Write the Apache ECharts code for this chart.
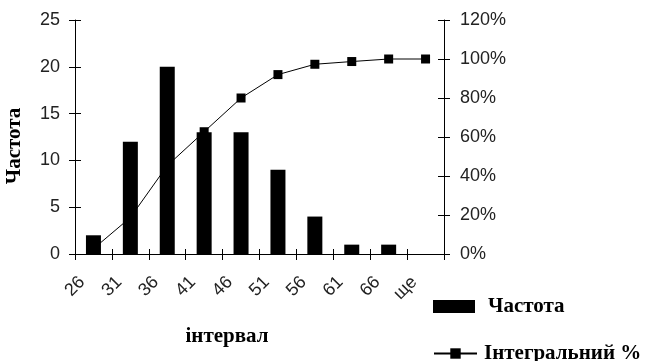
<!DOCTYPE html>
<html>
<head>
<meta charset="utf-8">
<script src="https://cdn.jsdelivr.net/npm/echarts@6/dist/echarts.min.js"></script>
<style>
html,body{margin:0;padding:0;background:#fff;}
#chart{width:653px;height:361px;}
</style>
</head>
<body>
<div id="chart"></div>
<script>
const categories = ['26', '31', '36', '41', '46', '51', '56', '61', '66', 'ще'];
const frequency = [2, 12, 20, 13, 13, 9, 4, 1, 1, 0];
const cumulativePct = [2.7, 18.7, 45.3, 62.7, 80, 92, 97.3, 98.7, 100, 100];
const leftTicks = { min: 0, max: 25, interval: 5 };
const rightTicks = { min: 0, max: 1.2, interval: 0.2 };
const barName = 'Частота';
const lineName = 'Інтегральний %';
const xTitle = 'інтервал';
const yTitle = 'Частота';

const chart = echarts.init(document.getElementById('chart'), null, { renderer: 'canvas' });
const tickFont = { fontFamily: 'Liberation Sans, Arial, sans-serif', fontSize: 18, color: '#222' };
const serifBold = 'Liberation Serif, Times New Roman, serif';

chart.setOption({
  animation: false,
  backgroundColor: '#fff',
  grid: { left: 75, right: 209, top: 20, bottom: 107 },
  xAxis: [
    {
      type: 'category', data: categories, boundaryGap: true,
      axisLine: { lineStyle: { color: '#000', width: 1 } },
      axisTick: { show: true, inside: false, length: 6, lineStyle: { color: '#000' } },
      axisLabel: Object.assign({ interval: 0, rotate: 45, margin: 14, padding: [0, 16, 0, 0] }, tickFont),
      splitLine: { show: false }
    },
    {
      type: 'category', data: categories, boundaryGap: true, position: 'bottom',
      axisLine: { show: false },
      axisTick: { show: true, inside: true, length: 5, lineStyle: { color: '#000' } },
      axisLabel: { show: false },
      splitLine: { show: false }
    }
  ],
  yAxis: [
    {
      type: 'value', position: 'left', min: leftTicks.min, max: leftTicks.max, interval: leftTicks.interval,
      axisLine: { show: true, lineStyle: { color: '#000' } },
      axisTick: { show: true, inside: false, length: 6, lineStyle: { color: '#000' } },
      axisLabel: Object.assign({ margin: 15 }, tickFont),
      splitLine: { show: false }
    },
    {
      type: 'value', position: 'right', min: rightTicks.min, max: rightTicks.max, interval: rightTicks.interval,
      axisLine: { show: true, lineStyle: { color: '#000' } },
      axisTick: { show: true, inside: false, length: 6, lineStyle: { color: '#000' } },
      axisLabel: Object.assign({ margin: 16, formatter: v => Math.round(v * 100) + '%' }, tickFont),
      splitLine: { show: false }
    },
    {
      type: 'value', position: 'left', min: leftTicks.min, max: leftTicks.max, interval: leftTicks.interval,
      axisLine: { show: false },
      axisTick: { show: true, inside: true, length: 6, lineStyle: { color: '#000' } },
      axisLabel: { show: false },
      splitLine: { show: false }
    },
    {
      type: 'value', position: 'right', min: rightTicks.min, max: rightTicks.max, interval: rightTicks.interval,
      axisLine: { show: false },
      axisTick: { show: true, inside: true, length: 6, lineStyle: { color: '#000' } },
      axisLabel: { show: false },
      splitLine: { show: false }
    }
  ],
  legend: [
    {
      data: [{ name: barName, icon: 'rect' }],
      left: 433, top: 296, padding: 0,
      itemWidth: 42, itemHeight: 13,
      textStyle: { fontFamily: serifBold, fontWeight: 'bold', fontSize: 21, color: '#000', padding: [0, 0, 0, 8] }
    },
    {
      data: [{ name: lineName }],
      left: 433, top: 343, padding: 0,
      itemWidth: 43, itemHeight: 13,
      textStyle: { fontFamily: serifBold, fontWeight: 'bold', fontSize: 21, color: '#000', padding: [0, 0, 0, 2] }
    }
  ],
  graphic: [
    {
      type: 'text',
      x: 227, y: 337,
      style: { text: xTitle, align: 'center', verticalAlign: 'middle',
        font: 'bold 21px ' + serifBold, fill: '#000' }
    },
    {
      type: 'text',
      x: 15, y: 146, rotation: Math.PI / 2,
      style: { text: yTitle, align: 'center', verticalAlign: 'middle',
        font: 'bold 21px ' + serifBold, fill: '#000' }
    }
  ],
  series: [
    {
      name: lineName, type: 'line', xAxisIndex: 0, yAxisIndex: 1, z: 2,
      data: cumulativePct.map(v => v / 100),
      symbol: 'rect', symbolSize: 9, showAllSymbol: true,
      lineStyle: { color: '#000', width: 1 },
      itemStyle: { color: '#000' }
    },
    {
      name: barName, type: 'bar', xAxisIndex: 0, yAxisIndex: 0, z: 3,
      data: frequency, barWidth: 15,
      itemStyle: { color: '#000' }
    }
  ]
});
</script>
</body>
</html>
